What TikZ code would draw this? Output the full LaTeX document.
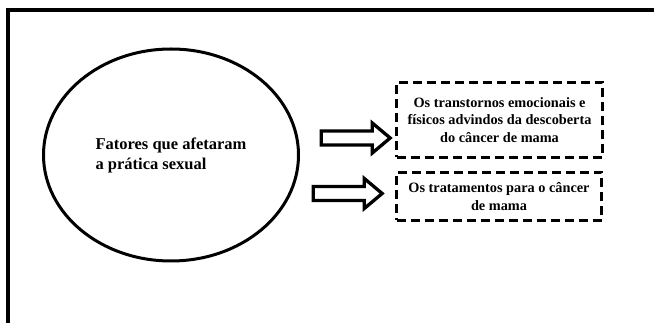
\documentclass[tikz,border=0pt]{standalone}
\usepackage{fontspec}
\setmainfont{Liberation Serif}
\usetikzlibrary{shapes.geometric,shapes.arrows}

\begin{document}
\begin{tikzpicture}[x=1pt, y=-1pt,
                oval/.style={draw, ellipse, line width=3pt, minimum width=255pt, minimum height=212pt, align=left, font=\bfseries\fontsize{16.5}{20}\selectfont},
                dbox/.style={draw, rectangle, line width=3pt, dash pattern=on 9pt off 5pt, align=center, font=\bfseries\fontsize{14.3}{17.5}\selectfont},
                blockarrow/.style={draw, fill=white, single arrow, line width=3.3pt, minimum height=69pt, minimum width=26.7pt, inner ysep=5.35pt, inner xsep=0pt, single arrow head extend=8pt, single arrow tip angle=80}]

                \useasboundingbox (0,0) rectangle (654,323);
                \draw[line width=4pt] (8,330) -- (8,10) -- (660,10);

                \node[oval] (fatores) at (171,155) {Fatores que afetaram\\a prática sexual};

                \node[dbox, minimum width=206pt, minimum height=75pt] (transtornos) at (499.5,120) {Os transtornos emocionais e\\físicos advindos da descoberta\\do câncer de mama};
                \node[dbox, minimum width=205pt, minimum height=48pt] (tratamentos) at (499,196.5) {Os tratamentos para o câncer\\de mama};

                \node[blockarrow] (seta1) at (351.5,138) {};
                \node[blockarrow] (seta2) at (343.5,193.5) {};
            \end{tikzpicture}
\end{document}
